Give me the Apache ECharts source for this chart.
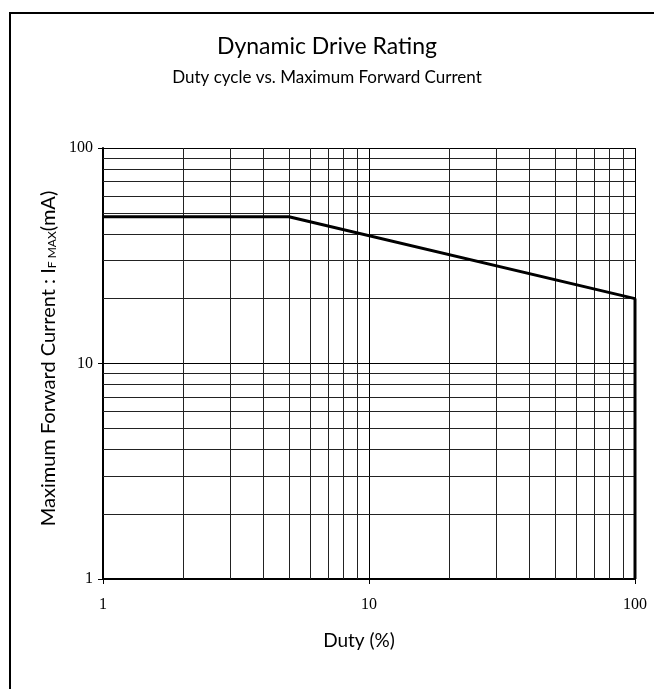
<!DOCTYPE html>
<html>
<head>
<meta charset="utf-8">
<script src="https://cdn.jsdelivr.net/npm/echarts@6/dist/echarts.min.js"></script>
<style>
html,body{margin:0;padding:0;background:#fff;}
#c{width:654px;height:689px;}
</style>
</head>
<body>
<div id="c"></div>
<script>
// Data
var titleText = 'Dynamic Drive Rating';
var subtitleText = 'Duty cycle vs. Maximum Forward Current';
var xAxisName = 'Duty (%)';
var yAxisName = 'Maximum Forward Current : I{sub|F MAX}(mA)';
var dutyValues = [1, 5, 100, 100];
var currentValues = [48, 48, 20, 1];
var xMinorGrid = [2, 3, 4, 5, 6, 7, 8, 9, 20, 30, 40, 50, 60, 70, 80, 90];
var yMinorGrid = [2, 3, 4, 5, 6, 7, 8, 9, 20, 30, 40, 50, 60, 70, 80, 90];

var lineData = dutyValues.map(function (d, i) { return [d, currentValues[i]]; });
var minorLines = xMinorGrid.map(function (v) { return { xAxis: v }; })
  .concat(yMinorGrid.map(function (v) { return { yAxis: v }; }));

var chart = echarts.init(document.getElementById('c'), null, { renderer: 'canvas' });
chart.setOption({
  animation: false,
  backgroundColor: '#fff',
  title: [{
    text: titleText,
    left: 'center', top: 30,
    textStyle: { fontFamily: 'Lato', fontSize: 23, fontWeight: 'normal', color: '#000' }
  }, {
    text: subtitleText,
    left: 'center', top: 64,
    textStyle: { fontFamily: 'Lato', fontSize: 17, fontWeight: 'normal', color: '#000' }
  }],
  graphic: [{
    type: 'rect',
    shape: { x: 10, y: 13, width: 700, height: 700 },
    style: { fill: 'none', stroke: '#000', lineWidth: 2 },
    silent: true
  }],
  grid: { left: 103, right: 19, top: 148, bottom: 110 },
  xAxis: {
    type: 'log', logBase: 10, min: 1, max: 100,
    name: xAxisName, nameLocation: 'middle', nameGap: 52,
    nameTextStyle: { fontFamily: 'Lato', fontSize: 19, color: '#000', padding: [0, 20, 0, 0] },
    axisLine: { show: true, lineStyle: { color: '#000', width: 2 } },
    axisTick: { show: true, length: 5, inside: false, lineStyle: { color: '#000', width: 1 } },
    axisLabel: { fontFamily: 'Liberation Serif', fontSize: 16, color: '#000', margin: 18, showMinLabel: true, showMaxLabel: true },
    splitLine: { show: true, lineStyle: { color: '#000', width: 1 } }
  },
  yAxis: {
    type: 'log', logBase: 10, min: 1, max: 100,
    name: yAxisName, nameLocation: 'middle', nameGap: 44, nameRotate: 90,
    nameTextStyle: {
      fontFamily: 'Lato', fontSize: 20, color: '#000', padding: [0, 0, 0, 10],
      rich: { sub: { fontFamily: 'Lato', fontSize: 12, color: '#000', verticalAlign: 'bottom', padding: [8, 0, 0, 0] } }
    },
    axisLine: { show: true, lineStyle: { color: '#000', width: 2 } },
    axisTick: { show: true, length: 5, inside: false, lineStyle: { color: '#000', width: 1 } },
    axisLabel: { fontFamily: 'Liberation Serif', fontSize: 16, color: '#000', margin: 10 },
    splitLine: { show: true, lineStyle: { color: '#000', width: 1 } }
  },
  series: [{
    type: 'line',
    data: lineData,
    symbol: 'none',
    silent: true,
    lineStyle: { color: '#000', width: 3 },
    z: 5,
    markLine: {
      silent: true,
      symbol: ['none', 'none'],
      label: { show: false },
      lineStyle: { color: '#222', width: 1, type: 'solid' },
      data: minorLines,
      z: 1
    }
  }]
});
</script>
</body>
</html>
